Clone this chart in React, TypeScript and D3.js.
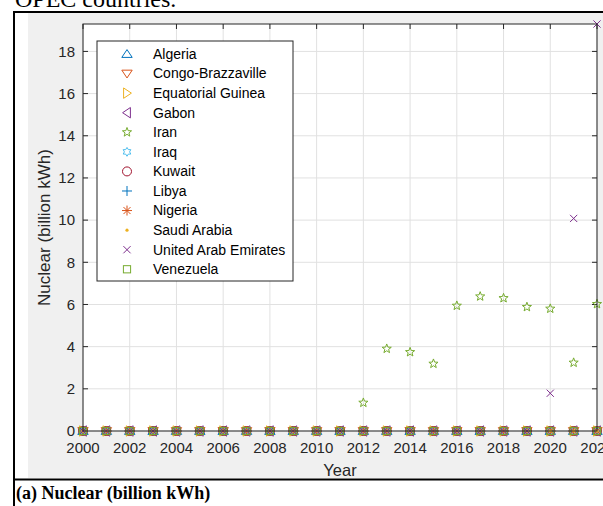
import React from "react";
import * as d3 from "d3";

const years = [2000, 2001, 2002, 2003, 2004, 2005, 2006, 2007, 2008, 2009, 2010, 2011, 2012, 2013, 2014, 2015, 2016, 2017, 2018, 2019, 2020, 2021, 2022];

const algeria = [0, 0, 0, 0, 0, 0, 0, 0, 0, 0, 0, 0, 0, 0, 0, 0, 0, 0, 0, 0, 0, 0, 0];
const congo = [0, 0, 0, 0, 0, 0, 0, 0, 0, 0, 0, 0, 0, 0, 0, 0, 0, 0, 0, 0, 0, 0, 0];
const eqGuinea = [0, 0, 0, 0, 0, 0, 0, 0, 0, 0, 0, 0, 0, 0, 0, 0, 0, 0, 0, 0, 0, 0, 0];
const gabon = [0, 0, 0, 0, 0, 0, 0, 0, 0, 0, 0, 0, 0, 0, 0, 0, 0, 0, 0, 0, 0, 0, 0];
const iran = [0, 0, 0, 0, 0, 0, 0, 0, 0, 0, 0, 0, 1.34, 3.9, 3.74, 3.19, 5.94, 6.38, 6.3, 5.88, 5.8, 3.24, 6.02];
const iraq = [0, 0, 0, 0, 0, 0, 0, 0, 0, 0, 0, 0, 0, 0, 0, 0, 0, 0, 0, 0, 0, 0, 0];
const kuwait = [0, 0, 0, 0, 0, 0, 0, 0, 0, 0, 0, 0, 0, 0, 0, 0, 0, 0, 0, 0, 0, 0, 0];
const libya = [0, 0, 0, 0, 0, 0, 0, 0, 0, 0, 0, 0, 0, 0, 0, 0, 0, 0, 0, 0, 0, 0, 0];
const nigeria = [0, 0, 0, 0, 0, 0, 0, 0, 0, 0, 0, 0, 0, 0, 0, 0, 0, 0, 0, 0, 0, 0, 0];
const saudiArabia = [0, 0, 0, 0, 0, 0, 0, 0, 0, 0, 0, 0, 0, 0, 0, 0, 0, 0, 0, 0, 0, 0, 0];
const uae = [0, 0, 0, 0, 0, 0, 0, 0, 0, 0, 0, 0, 0, 0, 0, 0, 0, 0, 0, 0, 1.79, 10.08, 19.3];
const venezuela = [0, 0, 0, 0, 0, 0, 0, 0, 0, 0, 0, 0, 0, 0, 0, 0, 0, 0, 0, 0, 0, 0, 0];

const countries = ["Algeria", "Congo-Brazzaville", "Equatorial Guinea", "Gabon", "Iran", "Iraq", "Kuwait", "Libya", "Nigeria", "Saudi Arabia", "United Arab Emirates", "Venezuela"];
const seriesValues = [algeria, congo, eqGuinea, gabon, iran, iraq, kuwait, libya, nigeria, saudiArabia, uae, venezuela];
const markers = ["^", "v", ">", "<", "p", "h", "o", "+", "*", ".", "x", "s"];
const colors = ["#0072BD", "#D95319", "#EDB120", "#7E2F8E", "#77AC30", "#4DBEEE", "#A2142F", "#0072BD", "#D95319", "#EDB120", "#7E2F8E", "#77AC30"];

const xTicks = [2000, 2002, 2004, 2006, 2008, 2010, 2012, 2014, 2016, 2018, 2020, 2022];
const yTicks = [0, 2, 4, 6, 8, 10, 12, 14, 16, 18];

function starPath(n: number, R: number, r: number) {
  const pts: string[] = [];
  for (let i = 0; i < 2 * n; i++) {
    const a = -Math.PI / 2 + (i * Math.PI) / n;
    const rad = i % 2 === 0 ? R : r;
    pts.push(`${(rad * Math.cos(a)).toFixed(2)},${(rad * Math.sin(a)).toFixed(2)}`);
  }
  return "M" + pts.join("L") + "Z";
}

function Marker({ shape, color, x, y }: { shape: string; color: string; x: number; y: number }) {
  const common = { fill: "none", stroke: color, strokeWidth: 1 };
  const t = `translate(${x},${y})`;
  switch (shape) {
    case "^":
      return <path transform={t} d="M0,-4.4L5.2,3.4L-5.2,3.4Z" {...common} />;
    case "v":
      return <path transform={t} d="M0,4.4L5.2,-3.4L-5.2,-3.4Z" {...common} />;
    case ">":
      return <path transform={t} d="M4.4,0L-3.4,-5.2L-3.4,5.2Z" {...common} />;
    case "<":
      return <path transform={t} d="M-4.4,0L3.4,-5.2L3.4,5.2Z" {...common} />;
    case "p":
      return <path transform={t} d={starPath(5, 4.8, 2.0)} {...common} />;
    case "h":
      return <path transform={t} d={starPath(6, 4.4, 2.6)} {...common} />;
    case "o":
      return <circle cx={x} cy={y} r={4.5} {...common} />;
    case "+":
      return <path transform={t} d="M-5,0H5M0,-5V5" {...common} />;
    case "*":
      return <path transform={t} d="M-5,0H5M0,-5V5M-3.5,-3.5L3.5,3.5M-3.5,3.5L3.5,-3.5" {...common} />;
    case ".":
      return <circle cx={x} cy={y} r={1.6} fill={color} stroke="none" />;
    case "x":
      return <path transform={t} d="M-3.6,-3.6L3.6,3.6M-3.6,3.6L3.6,-3.6" {...common} />;
    case "s":
      return <rect x={x - 3.6} y={y - 3.6} width={7.2} height={7.2} {...common} />;
    default:
      return null;
  }
}

export default function App() {
  const W = 603;
  const H = 506;
  const left = 83;
  const right = 597;
  const top = 24;
  const bottom = 431;

  const x = d3.scaleLinear().domain([2000, 2022]).range([left, right]);
  const y = d3.scaleLinear().domain([0, 19.3]).range([bottom, top]);

  const axisColor = "#262626";
  const font = "'Liberation Sans', Arial, sans-serif";
  const tickLen = 5;

  const legX = 97;
  const legY = 41;
  const legW = 196;
  const legH = 240;
  const rowH = 19.57;

  return (
    <svg width={W} height={H} style={{ position: "absolute", left: 0, top: 0, display: "block", background: "#fff" }}>
      <text x={15} y={7} fontFamily="'Liberation Serif', 'Times New Roman', serif" fontSize={24} fill="#000">OPEC countries.</text>
      {/* figure background */}
      <rect x={28} y={13} width={W - 28} height={465} fill="#f0f0f0" />
      {/* document frame */}
      <line x1={14} y1={12} x2={W} y2={12} stroke="#000" strokeWidth={2} />
      <line x1={14} y1={11} x2={14} y2={H} stroke="#000" strokeWidth={2} />
      <line x1={14} y1={479.5} x2={W} y2={479.5} stroke="#000" strokeWidth={2} />
      <text x={16} y={499} fontFamily="'Liberation Serif', 'Times New Roman', serif" fontWeight="bold" fontSize={18} fill="#000">(a) Nuclear (billion kWh)</text>

      {/* axes area */}
      <rect x={left} y={top} width={right - left} height={bottom - top} fill="#fff" />
      {xTicks.map((t) => (
        <line key={"gx" + t} x1={x(t)} x2={x(t)} y1={top} y2={bottom} stroke="#e1e1e1" strokeWidth={1} />
      ))}
      {yTicks.map((t) => (
        <line key={"gy" + t} x1={left} x2={right} y1={y(t)} y2={y(t)} stroke="#e1e1e1" strokeWidth={1} />
      ))}

      {/* ticks */}
      {xTicks.map((t) => (
        <g key={"tx" + t}>
          <line x1={x(t)} x2={x(t)} y1={bottom} y2={bottom - tickLen} stroke={axisColor} />
          <line x1={x(t)} x2={x(t)} y1={top} y2={top + tickLen} stroke={axisColor} />
          <text x={x(t)} y={452.5} textAnchor="middle" fontFamily={font} fontSize={15} fill={axisColor}>{t}</text>
        </g>
      ))}
      {yTicks.map((t) => (
        <g key={"ty" + t}>
          <line x1={left} x2={left + tickLen} y1={y(t)} y2={y(t)} stroke={axisColor} />
          <line x1={right} x2={right - tickLen} y1={y(t)} y2={y(t)} stroke={axisColor} />
          <text x={75} y={y(t)} dy="0.35em" textAnchor="end" fontFamily={font} fontSize={15} fill={axisColor}>{t}</text>
        </g>
      ))}

      {/* data */}
      {seriesValues.map((vals, si) => (
        <g key={"s" + si}>
          {vals.map((v, i) => (
            <Marker key={i} shape={markers[si]} color={colors[si]} x={x(years[i])} y={y(v)} />
          ))}
        </g>
      ))}

      {/* box */}
      <rect x={left} y={top} width={right - left} height={bottom - top} fill="none" stroke={axisColor} strokeWidth={1} />

      {/* labels */}
      <text x={(left + right) / 2} y={476} textAnchor="middle" fontFamily={font} fontSize={16.5} fill={axisColor}>Year</text>
      <text transform={`translate(50,${(top + bottom) / 2}) rotate(-90)`} textAnchor="middle" fontFamily={font} fontSize={17} fill={axisColor}>Nuclear (billion kWh)</text>

      {/* legend */}
      <rect x={legX} y={legY} width={legW} height={legH} fill="#fff" stroke={axisColor} strokeWidth={1} />
      {countries.map((c, i) => (
        <g key={"l" + c}>
          <Marker shape={markers[i]} color={colors[i]} x={127} y={legY + 13 + i * rowH} />
          <text x={153} y={legY + 13 + i * rowH} dy="0.35em" fontFamily={font} fontSize={14} fill="#000">{c}</text>
        </g>
      ))}
    </svg>
  );
}
